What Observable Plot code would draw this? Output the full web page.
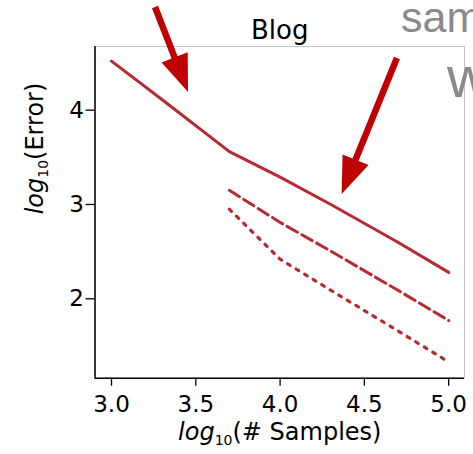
<!DOCTYPE html>
<html><head><meta charset="utf-8">
<script src="https://cdn.jsdelivr.net/npm/d3@7"></script>
<script src="https://cdn.jsdelivr.net/npm/@observablehq/plot@0.6"></script>
<style>
body{margin:0;background:#fff;}
#wrap{position:relative;width:473px;height:454px;overflow:hidden;font-family:"DejaVu Sans",sans-serif;}
.grey{position:absolute;color:#8a8a8a;font-family:"Liberation Sans",Arial,sans-serif;line-height:1;white-space:nowrap;}
</style></head><body><div id="wrap"></div>
<script>
// Data (log10 of #samples vs log10 of error)
const logSamples = [3.0, 3.301, 3.699, 4.0, 4.301, 4.699, 5.0];
const solidErr   = [4.52, 4.11, 3.56, 3.29, 3.00, 2.60, 2.28];
const laterSamples = [3.699, 4.0, 4.301, 4.699, 5.0];
const dashedErr  = [3.15, 2.81, 2.505, 2.09, 1.77];
const dottedErr  = [2.95, 2.42, 2.09, 1.66, 1.33];
const xTicks = [3.0, 3.5, 4.0, 4.5, 5.0];
const yTicks = [2, 3, 4];
const titleText = "Blog";
const xLabel = "log10(# Samples)";
const yLabel = "log10(Error)";
// annotation arrows in data units (tail -> tip)
const arrowTailX = [3.261, 4.696];
const arrowTailY = [5.089, 4.548];
const arrowTipX  = [3.457, 4.368];
const arrowTipY  = [4.188, 3.106];

const xDomain = [2.902, 5.094];
const yDomain = [1.158, 4.675];
const lineColor = "#b82a33";

const solid = logSamples.map((x, i) => ({x, y: solidErr[i]}));
const dashed = laterSamples.map((x, i) => ({x, y: dashedErr[i]}));
const dotted = laterSamples.map((x, i) => ({x, y: dottedErr[i]}));
const arrows = arrowTailX.map((x1, i) => ({x1, y1: arrowTailY[i], x2: arrowTipX[i], y2: arrowTipY[i]}));

function arrowMark(index, scales) {
  const g = d3.create("svg:g");
  for (const a of arrows) {
    const x1 = scales.x(a.x1), y1 = scales.y(a.y1), x2 = scales.x(a.x2), y2 = scales.y(a.y2);
    const ang = Math.atan2(y2 - y1, x2 - x1);
    const headLen = 37, headW = 28;
    const ux = Math.cos(ang), uy = Math.sin(ang);
    const bx = x2 - ux * headLen, by = y2 - uy * headLen;
    const px = -uy, py = ux;
    g.append("line").attr("x1", x1).attr("y1", y1).attr("x2", bx + ux * 2).attr("y2", by + uy * 2)
      .attr("stroke", "#c00000").attr("stroke-width", 6.5);
    g.append("path")
      .attr("d", `M${x2},${y2}L${bx + px * headW / 2},${by + py * headW / 2}L${bx - px * headW / 2},${by - py * headW / 2}Z`)
      .attr("fill", "#c00000");
  }
  return g.node();
}

const chart = Plot.plot({
  width: 473,
  height: 454,
  marginLeft: 94.5,
  marginRight: 9,
  marginTop: 46,
  marginBottom: 76.3,
  style: {fontFamily: "DejaVu Sans", color: "black", background: "transparent", overflow: "visible"},
  x: {domain: xDomain},
  y: {domain: yDomain},
  marks: [
    Plot.frame({stroke: "#c4c4c4", strokeWidth: 1}),
    Plot.ruleX([xDomain[0]], {stroke: "black", strokeWidth: 1.5}),
    Plot.ruleY([yDomain[0]], {stroke: "black", strokeWidth: 1.5}),
    Plot.axisX({ticks: xTicks, tickFormat: d3.format(".1f"), tickSize: 8, tickPadding: 9, fontSize: 23, label: null, strokeWidth: 1.3}),
    Plot.axisY({ticks: yTicks, tickFormat: d3.format("d"), tickSize: 9, tickPadding: 2, fontSize: 23, label: null, strokeWidth: 1.3}),
    Plot.line(solid, {x: "x", y: "y", stroke: lineColor, strokeWidth: 3, strokeLinejoin: "round"}),
    Plot.line(dashed, {x: "x", y: "y", stroke: lineColor, strokeWidth: 3, strokeDasharray: "12,5"}),
    Plot.line(dotted, {x: "x", y: "y", stroke: lineColor, strokeWidth: 3.2, strokeDasharray: "3,7"}),
    Plot.text([titleText], {frameAnchor: "top", dy: -26, fontSize: 26, fill: "black"}),
    Plot.text([xLabel], {frameAnchor: "bottom", dy: 62, fontSize: 24, fill: "black"}),
    Plot.text([yLabel], {frameAnchor: "left", dx: -60, dy: 2, rotate: -90, fontSize: 24, fill: "black"}),
    arrowMark
  ]
});

// rich text for the axis labels: italic "log", subscript "10"
d3.select(chart).selectAll("text").each(function () {
  const t = this.textContent;
  if (t === xLabel || t === yLabel) {
    const rest = t.slice(5);
    d3.select(this).text(null);
    d3.select(this).append("tspan").attr("font-style", "italic").text("log");
    d3.select(this).append("tspan").attr("font-size", 14).attr("dy", 5).text("10");
    d3.select(this).append("tspan").attr("dy", -5).text(rest);
  }
});

const wrap = document.getElementById("wrap");
wrap.appendChild(chart);
const sam = document.createElement("div");
sam.className = "grey"; sam.textContent = "sam";
sam.style.cssText = "left:401px;top:-4px;font-size:43px;";
wrap.appendChild(sam);
const w = document.createElement("div");
w.className = "grey"; w.textContent = "w";
w.style.cssText = "left:447px;top:48px;font-size:58px;";
wrap.appendChild(w);
</script></body></html>
